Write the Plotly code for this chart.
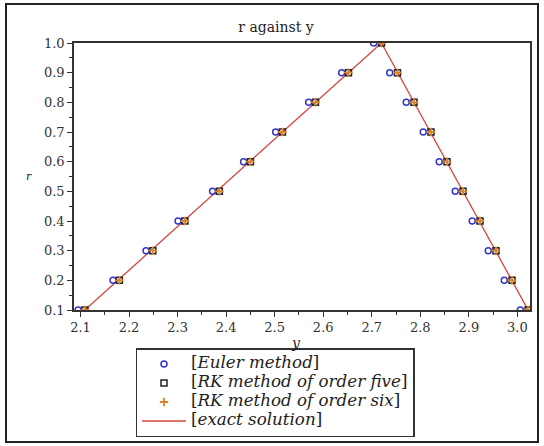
import plotly.graph_objects as go

r_vals = [0.1, 0.2, 0.3, 0.4, 0.5, 0.6, 0.7, 0.8, 0.9, 1.0, 0.9, 0.8, 0.7, 0.6, 0.5, 0.4, 0.3, 0.2, 0.1]
euler_y = [2.095, 2.167, 2.235, 2.301, 2.372, 2.436, 2.502, 2.570, 2.638, 2.704,
           2.737, 2.771, 2.806, 2.839, 2.872, 2.907, 2.940, 2.973, 3.006]
rk5_y = [2.109, 2.180, 2.249, 2.315, 2.386, 2.450, 2.516, 2.584, 2.652, 2.720,
         2.753, 2.787, 2.822, 2.855, 2.888, 2.923, 2.956, 2.989, 3.022]
rk6_y = [2.109, 2.180, 2.249, 2.315, 2.386, 2.450, 2.516, 2.584, 2.652, 2.720,
         2.753, 2.787, 2.822, 2.855, 2.888, 2.923, 2.956, 2.989, 3.022]
exact_y = [2.109, 2.720, 3.022]
exact_r = [0.1, 1.0, 0.1]

x_ticks = [2.1, 2.2, 2.3, 2.4, 2.5, 2.6, 2.7, 2.8, 2.9, 3.0]
y_ticks = [0.1, 0.2, 0.3, 0.4, 0.5, 0.6, 0.7, 0.8, 0.9, 1.0]

legend_labels = ["Euler method", "RK method of order five",
                 "RK method of order six", "exact solution"]
names = [f'<span style="font-size:16.7px">[<i>{s}</i>]</span>' for s in legend_labels]

SERIF = "DejaVu Serif, serif"
W, H = 544, 446
PL, PR, PT, PB = 74, 530, 43, 310   # plot area in pixels


def px_x(p):
    return p / W


def px_y(p):
    return 1 - p / H


fig = go.Figure()
fig.add_trace(go.Scatter(x=exact_y, y=exact_r, mode="lines", name=names[3],
                         line=dict(color="#d9443f", width=1.3), showlegend=False))
fig.add_trace(go.Scatter(x=euler_y, y=r_vals, mode="markers", name=names[0],
                         marker=dict(symbol="circle-open", size=6, color="#3535c8",
                                     line=dict(width=1.5))))
fig.add_trace(go.Scatter(x=rk5_y, y=r_vals, mode="markers", name=names[1],
                         marker=dict(symbol="square-open", size=6, color="#222222",
                                     line=dict(width=1.5))))
fig.add_trace(go.Scatter(x=rk6_y, y=r_vals, mode="markers", name=names[2],
                         marker=dict(symbol="cross-thin-open", size=6, color="#d9862a",
                                     line=dict(width=1.8))))
fig.add_trace(go.Scatter(x=[None], y=[None], mode="lines", name=names[3],
                         line=dict(color="#d9443f", width=1.3)))

axis_common = dict(showgrid=False, zeroline=False, showline=True, linecolor="#333333",
                   linewidth=1.5, mirror=True, ticks="outside", ticklen=5,
                   tickcolor="#333333", tickwidth=1,
                   tickfont=dict(family=SERIF, size=13, color="#333333"))

fig.update_layout(
    width=W, height=H,
    margin=dict(l=0, r=0, t=0, b=0, autoexpand=False),
    paper_bgcolor="white", plot_bgcolor="white",
    title=dict(text="r against y", x=px_x(276), xref="paper", xanchor="center",
               y=px_y(27), yref="paper", yanchor="middle",
               font=dict(family=SERIF, size=14, color="#222222")),
    xaxis=dict(domain=[px_x(PL), px_x(PR)], range=[2.0866, 3.026],
               tickvals=x_ticks, ticktext=[f"{v:.1f}" for v in x_ticks],
               minor=dict(dtick=0.05, tick0=2.05, ticks="outside", ticklen=3,
                          tickcolor="#333333"),
               **axis_common),
    yaxis=dict(domain=[px_y(PB), px_y(PT)], range=[0.1, 1.0],
               tickvals=y_ticks, ticktext=[f"{v:.1f}" for v in y_ticks],
               minor=dict(dtick=0.05, tick0=0.05, ticks="outside", ticklen=3,
                          tickcolor="#333333"),
               **axis_common),
    legend=dict(x=px_x(275), xanchor="center", y=px_y(348), yanchor="top",
                bordercolor="#333333", borderwidth=1.5, bgcolor="white",
                font=dict(family=SERIF, size=11, color="#222222"),
                itemwidth=44, tracegroupgap=0),
    showlegend=True,
)

fig.add_annotation(text="<i>r</i>", xref="paper", yref="paper",
                   x=px_x(29), y=px_y(177), xanchor="center", yanchor="middle",
                   showarrow=False, font=dict(family=SERIF, size=11, color="#222222"))
fig.add_annotation(text="<i>y</i>", xref="paper", yref="paper",
                   x=px_x(296), y=px_y(343), xanchor="center", yanchor="middle",
                   showarrow=False, font=dict(family=SERIF, size=14, color="#222222"))

# outer frame around the whole picture
fig.add_shape(type="rect", xref="paper", yref="paper",
              x0=px_x(6), x1=px_x(538), y0=px_y(442), y1=px_y(4),
              line=dict(color="#222222", width=2), layer="above")

fig.write_html("out.html", config={"displayModeBar": False},
               post_script="document.body.style.margin='0px';")
